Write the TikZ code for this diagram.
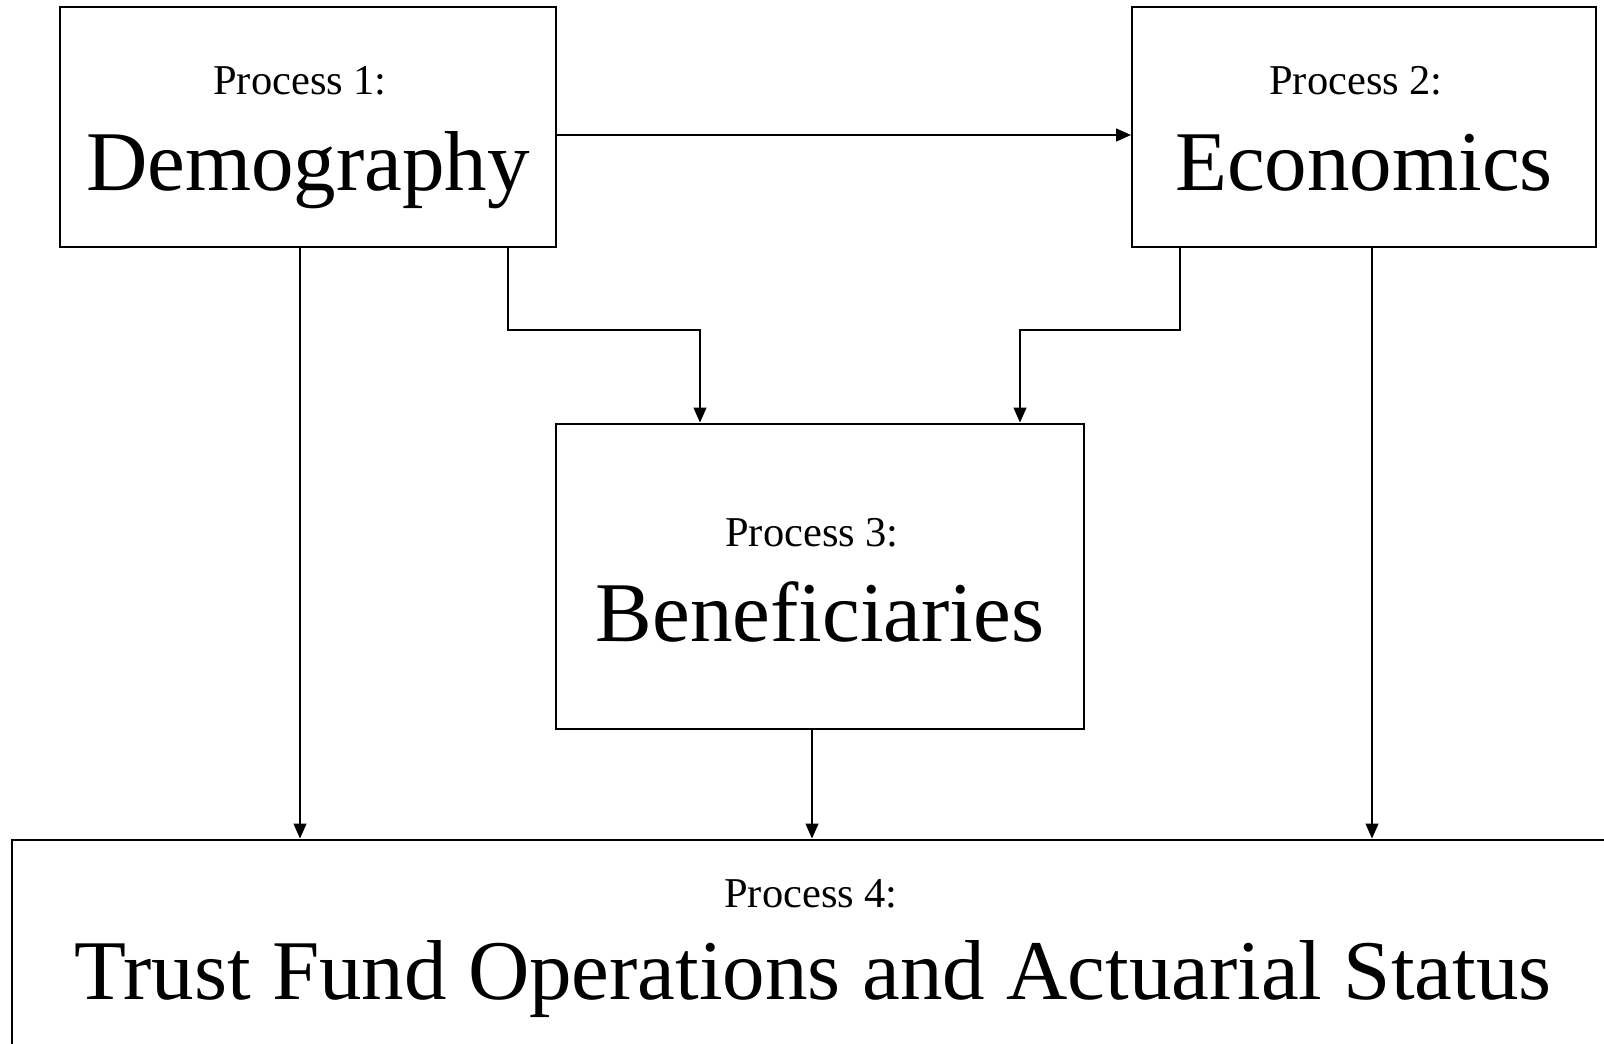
\documentclass[tikz,border=0pt]{standalone}
\usepackage{fontspec}
\setmainfont{Liberation Serif}
\usetikzlibrary{arrows.meta}
\tikzset{
  box/.style={draw, line width=1pt, inner sep=0pt, fill=none},
  arr/.style={line width=0.7pt, -{Triangle[length=7.5pt,width=6.5pt]}},
  small/.style={anchor=base, inner sep=0pt, font=\fontsize{21.25}{25}\selectfont},
  big/.style={anchor=base, inner sep=0pt, font=\fontsize{42.5}{50}\selectfont}
}
\begin{document}
\begin{tikzpicture}[x=0.5pt,y=-0.5pt]
\path[use as bounding box, clip] (0,0) rectangle (1604,1043);
\fill[white] (0,0) rectangle (1604,1043);
% boxes
\node[box, minimum width=248pt, minimum height=120pt] (b1) at (308,127) {};
\node[box, minimum width=232pt, minimum height=120pt] (b2) at (1364,127) {};
\node[box, minimum width=264pt, minimum height=152.5pt] (b3) at (820,576) {};
\node[box, minimum width=814pt, minimum height=121pt] (b4) at (826,960.5) {};
% texts
\node[small] (t1a) at (300,95) {Process 1:};
\node[big] (t1b) at (308,191) {Demography};
\node[small] (t2a) at (1356,95) {Process 2:};
\node[big] (t2b) at (1364,191) {Economics};
\node[small] (t3a) at (812,546) {Process 3:};
\node[big] (t3b) at (820,641) {Beneficiaries};
\node[small] (t4a) at (811,907) {Process 4:};
\node[big] (t4b) at (813,999) {Trust Fund Operations and Actuarial Status};
% helper coordinates
\coordinate (xL) at (300,0);
\coordinate (xa) at (508,0);
\coordinate (xb) at (700,0);
\coordinate (xc) at (1180,0);
\coordinate (xd) at (1020,0);
\coordinate (xR) at (1372,0);
\coordinate (xM) at (812,0);
\coordinate (ye) at (0,330);
\coordinate (yt) at (0,135);
% connectors
\draw[arr] (b1.east |- yt) -- (b2.west |- yt);
\draw[arr] (b1.south -| xL) -- (b4.north -| xL);
\draw[arr] (b1.south -| xa) -- (xa |- ye) -- (xb |- ye) -- (b3.north -| xb);
\draw[arr] (b2.south -| xc) -- (xc |- ye) -- (xd |- ye) -- (b3.north -| xd);
\draw[arr] (b2.south -| xR) -- (b4.north -| xR);
\draw[arr] (b3.south -| xM) -- (b4.north -| xM);
\end{tikzpicture}
\end{document}
